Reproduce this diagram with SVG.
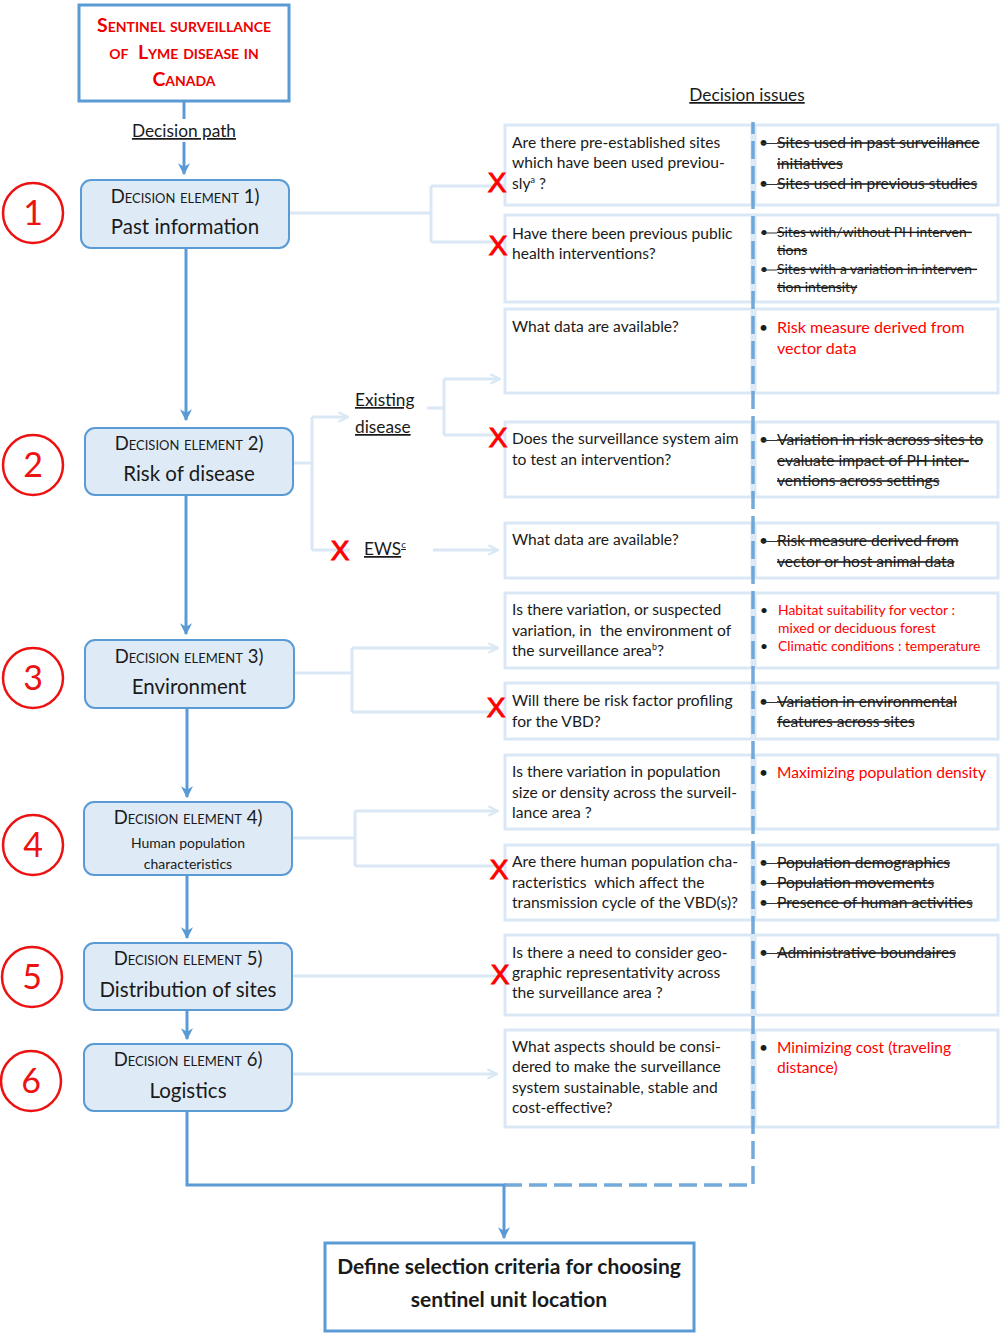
<svg xmlns="http://www.w3.org/2000/svg" width="1001" height="1339" viewBox="0 0 1001 1339">
<defs>
<style>
.t{font-family:Lato,"Open Sans","Liberation Sans",sans-serif;font-size:15.6px;fill:#1a1a1a}
.red{fill:#ff0000}
.sm{font-size:13.9px}
.big{font-size:16.1px}
.st{text-decoration:line-through}
.hd{font-family:Lato,"Open Sans","Liberation Sans",sans-serif;font-size:17.3px;fill:#1a1a1a;text-decoration:underline}
.de{fill:#deebf7;stroke:#5b9bd5;stroke-width:2}
.dt{font-family:Lato,"Open Sans","Liberation Sans",sans-serif;font-size:18.5px;fill:#1a1a1a;font-variant:small-caps;text-anchor:middle}
.dm{font-family:Lato,"Open Sans","Liberation Sans",sans-serif;font-size:20.5px;fill:#1a1a1a;text-anchor:middle}
.dsm{font-family:Lato,"Open Sans","Liberation Sans",sans-serif;font-size:14px;fill:#1a1a1a;text-anchor:middle}
.qb{fill:#ffffff;stroke:#dae8f5;stroke-width:3}
.lc{fill:none;stroke:#dae8f5;stroke-width:3}
.dc{fill:none;stroke:#5b9bd5;stroke-width:3}
.num{fill:none;stroke:#ee1111;stroke-width:2.5}
.nt{font-family:Lato,"Open Sans","Liberation Sans",sans-serif;font-size:34px;fill:#ee1111;text-anchor:middle}
.x{font-family:"Liberation Sans",Arial,sans-serif;font-size:28px;fill:#ff0000;stroke:#ff0000;stroke-width:1;text-anchor:middle}
.sl{stroke:#333;stroke-width:1}
.ti{font-family:Lato,"Open Sans",sans-serif;font-size:19.5px;font-weight:bold;font-variant:small-caps;fill:#ee0000;text-anchor:middle}
.fi{font-family:Lato,"Open Sans",sans-serif;font-size:21px;font-weight:bold;fill:#1a1a1a;text-anchor:middle}
</style>
<marker id="ad" viewBox="0 0 10 10" refX="9" refY="5" markerWidth="4" markerHeight="4" orient="auto" markerUnits="strokeWidth">
<path d="M0,0 L10,5 L0,10 L3,5 Z" fill="#5b9bd5"/>
</marker>
<marker id="al" viewBox="0 0 10 10" refX="9" refY="5" markerWidth="4" markerHeight="4" orient="auto" markerUnits="strokeWidth">
<path d="M1,1 L9,5 L1,9" fill="none" stroke="#dae8f5" stroke-width="2"/>
</marker>
</defs>
<rect width="1001" height="1339" fill="#ffffff"/>

<!-- question boxes -->
<g id="question-boxes">
<rect class="qb" x="505" y="125" width="247" height="80"/><rect class="qb" x="755" y="125" width="243" height="80"/>
<rect class="qb" x="505" y="215" width="247" height="87"/><rect class="qb" x="755" y="215" width="243" height="87"/>
<rect class="qb" x="505" y="309" width="247" height="84"/><rect class="qb" x="755" y="309" width="243" height="84"/>
<rect class="qb" x="505" y="422" width="247" height="75"/><rect class="qb" x="755" y="422" width="243" height="75"/>
<rect class="qb" x="505" y="523" width="247" height="55"/><rect class="qb" x="755" y="523" width="243" height="55"/>
<rect class="qb" x="505" y="593" width="247" height="75"/><rect class="qb" x="755" y="593" width="243" height="75"/>
<rect class="qb" x="505" y="683" width="247" height="56"/><rect class="qb" x="755" y="683" width="243" height="56"/>
<rect class="qb" x="505" y="755" width="247" height="74"/><rect class="qb" x="755" y="755" width="243" height="74"/>
<rect class="qb" x="505" y="845" width="247" height="75"/><rect class="qb" x="755" y="845" width="243" height="75"/>
<rect class="qb" x="505" y="935" width="247" height="80"/><rect class="qb" x="755" y="935" width="243" height="80"/>
<rect class="qb" x="505" y="1030" width="247" height="97"/><rect class="qb" x="755" y="1030" width="243" height="97"/>
</g>

<!-- connectors -->
<g id="connectors">
<path class="dc" d="M184,101 V119"/>
<path class="dc" d="M184,142 V174" marker-end="url(#ad)"/>
<path class="dc" d="M186,248 V420" marker-end="url(#ad)"/>
<path class="dc" d="M186,495 V634" marker-end="url(#ad)"/>
<path class="dc" d="M187,708 V797" marker-end="url(#ad)"/>
<path class="dc" d="M187,875 V938" marker-end="url(#ad)"/>
<path class="dc" d="M187,1010 V1039" marker-end="url(#ad)"/>
<path class="dc" d="M187,1111 V1185 H504 V1238" marker-end="url(#ad)"/>
<path d="M504,1185 H753 V122" fill="none" stroke="#5b9bd5" stroke-opacity="0.85" stroke-width="3.5" stroke-dasharray="18 7"/>

<path class="lc" d="M289,213 H431 M431,186 V242 M431,186 H505 M431,242 H505"/>
<path class="lc" d="M293,463 H312 M312,417 V550 M312,550 H350"/>
<path class="lc" d="M312,417 H348" marker-end="url(#al)"/>
<path class="lc" d="M427,408 H444 M444,379 V435 M444,435 H505"/>
<path class="lc" d="M444,379 H500" marker-end="url(#al)"/>
<path class="lc" d="M433,550 H498" marker-end="url(#al)"/>
<path class="lc" d="M294,673 H352 M352,648 V712 M352,712 H505"/>
<path class="lc" d="M352,648 H498" marker-end="url(#al)"/>
<path class="lc" d="M292,838 H355 M355,811 V866 M355,866 H505"/>
<path class="lc" d="M355,811 H498" marker-end="url(#al)"/>
<path class="lc" d="M292,976 H502"/>
<path class="lc" d="M292,1074 H497" marker-end="url(#al)"/>
</g>

<!-- title -->
<g id="title">
<rect x="79" y="5" width="210" height="96" fill="#ffffff" stroke="#5b9bd5" stroke-width="3"/>
<text class="ti" x="184" y="32">Sentinel surveillance</text>
<text class="ti" x="184" y="59" xml:space="preserve">of  Lyme disease in</text>
<text class="ti" x="184" y="86">Canada</text>
</g>
<text class="hd" x="184" y="137" text-anchor="middle">Decision path</text>
<text class="hd" x="747" y="101" text-anchor="middle">Decision issues</text>

<!-- decision elements -->
<g id="de1"><rect class="de" x="81" y="180" width="208" height="68" rx="10"/>
<text class="dt" x="185" y="203">Decision element 1)</text><text class="dm" x="185" y="234">Past information</text></g>
<g id="de2"><rect class="de" x="85" y="428" width="208" height="67" rx="10"/>
<text class="dt" x="189" y="450">Decision element 2)</text><text class="dm" x="189" y="481">Risk of disease</text></g>
<g id="de3"><rect class="de" x="85" y="640" width="209" height="68" rx="10"/>
<text class="dt" x="189" y="663">Decision element 3)</text><text class="dm" x="189" y="694">Environment</text></g>
<g id="de4"><rect class="de" x="84" y="802" width="208" height="73" rx="10"/>
<text class="dt" x="188" y="824">Decision element 4)</text><text class="dsm" x="188" y="848">Human population</text><text class="dsm" x="188" y="869">characteristics</text></g>
<g id="de5"><rect class="de" x="84" y="943" width="208" height="67" rx="10"/>
<text class="dt" x="188" y="965">Decision element 5)</text><text class="dm" x="188" y="997">Distribution of sites</text></g>
<g id="de6"><rect class="de" x="84" y="1044" width="208" height="67" rx="10"/>
<text class="dt" x="188" y="1066">Decision element 6)</text><text class="dm" x="188" y="1098">Logistics</text></g>

<!-- numbered circles -->
<g id="n1"><circle class="num" cx="33" cy="213" r="30"/><text class="nt" x="33" y="225">1</text></g>
<g id="n2"><circle class="num" cx="33" cy="465" r="30"/><text class="nt" x="33" y="477">2</text></g>
<g id="n3"><circle class="num" cx="33" cy="678" r="30"/><text class="nt" x="33" y="690">3</text></g>
<g id="n4"><circle class="num" cx="33" cy="845" r="30"/><text class="nt" x="33" y="857">4</text></g>
<g id="n5"><circle class="num" cx="32" cy="977" r="30"/><text class="nt" x="32" y="989">5</text></g>
<g id="n6"><circle class="num" cx="31" cy="1081" r="30"/><text class="nt" x="31" y="1093">6</text></g>

<!-- branch labels -->
<g id="existing"><text class="hd" x="355" y="406">Existing</text><text class="hd" x="355" y="433">disease</text></g>
<g id="ews"><text class="hd" x="364" y="555">EWS<tspan font-size="10" dy="-7">c</tspan></text></g>

<!-- left column questions -->
<g id="questions">
<text class="t" x="512" y="148">Are there pre-established sites</text>
<text class="t" x="512" y="168">which have been used previou-</text>
<text class="t" x="512" y="189">sly<tspan font-size="9" dy="-6">a</tspan><tspan dy="6"> ?</tspan></text>
<text class="t" x="512" y="239">Have there been previous public</text>
<text class="t" x="512" y="259">health interventions?</text>
<text class="t" x="512" y="332">What data are available?</text>
<text class="t" x="512" y="444">Does the surveillance system aim</text>
<text class="t" x="512" y="465">to test an intervention?</text>
<text class="t" x="512" y="545">What data are available?</text>
<text class="t" x="512" y="615">Is there variation, or suspected</text>
<text class="t" x="512" y="636" xml:space="preserve">variation, in  the environment of</text>
<text class="t" x="512" y="656">the surveillance area<tspan font-size="9" dy="-6">b</tspan><tspan dy="6">?</tspan></text>
<text class="t" x="512" y="706">Will there be risk factor profiling</text>
<text class="t" x="512" y="727">for the VBD?</text>
<text class="t" x="512" y="777">Is there variation in population</text>
<text class="t" x="512" y="798">size or density across the surveil-</text>
<text class="t" x="512" y="818">lance area ?</text>
<text class="t" x="512" y="867">Are there human population cha-</text>
<text class="t" x="512" y="888" xml:space="preserve">racteristics  which affect the</text>
<text class="t" x="512" y="908">transmission cycle of the VBD(s)?</text>
<text class="t" x="512" y="958">Is there a need to consider geo-</text>
<text class="t" x="512" y="978">graphic representativity across</text>
<text class="t" x="512" y="998">the surveillance area ?</text>
<text class="t" x="512" y="1052">What aspects should be consi-</text>
<text class="t" x="512" y="1072">dered to make the surveillance</text>
<text class="t" x="512" y="1093">system sustainable, stable and</text>
<text class="t" x="512" y="1113">cost-effective?</text>
</g>

<!-- right column issues -->
<g id="issues">
<text class="t" x="759" y="148">•</text><text class="t st" x="777" y="148">Sites used in past surveillance</text><text class="t st" x="777" y="169">initiatives</text>
<text class="t" x="759" y="189">•</text><text class="t st" x="777" y="189">Sites used in previous studies</text>
<line class="sl" x1="761" y1="143.5" x2="777" y2="143.5"/><line class="sl" x1="761" y1="184.5" x2="777" y2="184.5"/>

<text class="t sm" x="760" y="237">•</text><text class="t sm st" x="777" y="237">Sites with/without PH interven-</text><text class="t sm st" x="777" y="255">tions</text>
<text class="t sm" x="760" y="274">•</text><text class="t sm st" x="777" y="274">Sites with a variation in interven-</text><text class="t sm st" x="777" y="292">tion intensity</text>
<line class="sl" x1="761" y1="233" x2="777" y2="233"/><line class="sl" x1="761" y1="270" x2="777" y2="270"/>

<text class="t" x="759" y="333">•</text><text class="t red big" x="777" y="333">Risk measure derived from</text><text class="t red big" x="777" y="354">vector data</text>

<text class="t" x="759" y="445">•</text><text class="t st" x="777" y="445">Variation in risk across sites to</text><text class="t st" x="777" y="466">evaluate impact of PH inter-</text><text class="t st" x="777" y="486">ventions across settings</text>
<line class="sl" x1="761" y1="440.5" x2="777" y2="440.5"/>

<text class="t" x="759" y="546">•</text><text class="t st" x="777" y="546">Risk measure derived from</text><text class="t st" x="777" y="567">vector or host animal data</text>
<line class="sl" x1="761" y1="541.5" x2="777" y2="541.5"/>

<text class="t sm" x="760" y="615">•</text><text class="t sm red" x="778" y="615">Habitat suitability for vector :</text><text class="t sm red" x="778" y="633">mixed or deciduous forest</text>
<text class="t sm" x="760" y="651">•</text><text class="t sm red" x="778" y="651">Climatic conditions : temperature</text>

<text class="t" x="759" y="707">•</text><text class="t st" x="777" y="707">Variation in environmental</text><text class="t st" x="777" y="727">features across sites</text>
<line class="sl" x1="761" y1="702.5" x2="777" y2="702.5"/>

<text class="t" x="759" y="778">•</text><text class="t red" x="777" y="778">Maximizing population density</text>

<text class="t" x="759" y="868">•</text><text class="t st" x="777" y="868">Population demographics</text>
<text class="t" x="759" y="888">•</text><text class="t st" x="777" y="888">Population movements</text>
<text class="t" x="759" y="908">•</text><text class="t st" x="777" y="908">Presence of human activities</text>
<line class="sl" x1="761" y1="863.5" x2="777" y2="863.5"/><line class="sl" x1="761" y1="883.5" x2="777" y2="883.5"/><line class="sl" x1="761" y1="903.5" x2="777" y2="903.5"/>

<text class="t" x="759" y="958">•</text><text class="t st" x="777" y="958">Administrative boundaires</text>
<line class="sl" x1="761" y1="953.5" x2="777" y2="953.5"/>

<text class="t" x="759" y="1053">•</text><text class="t red" x="777" y="1053">Minimizing cost (traveling</text><text class="t red" x="777" y="1073">distance)</text>
</g>

<!-- red X marks -->
<g id="xmarks">
<text class="x" x="497" y="192">X</text>
<text class="x" x="498" y="255">X</text>
<text class="x" x="498" y="447">X</text>
<text class="x" x="340" y="560">X</text>
<text class="x" x="496" y="717">X</text>
<text class="x" x="499" y="879">X</text>
<text class="x" x="500" y="984">X</text>
</g>

<!-- final box -->
<g id="final">
<rect x="325" y="1243" width="369" height="88" fill="#ffffff" stroke="#5b9bd5" stroke-width="3"/>
<text class="fi" x="509" y="1274">Define selection criteria for choosing</text>
<text class="fi" x="509" y="1307">sentinel unit location</text>
</g>
</svg>
